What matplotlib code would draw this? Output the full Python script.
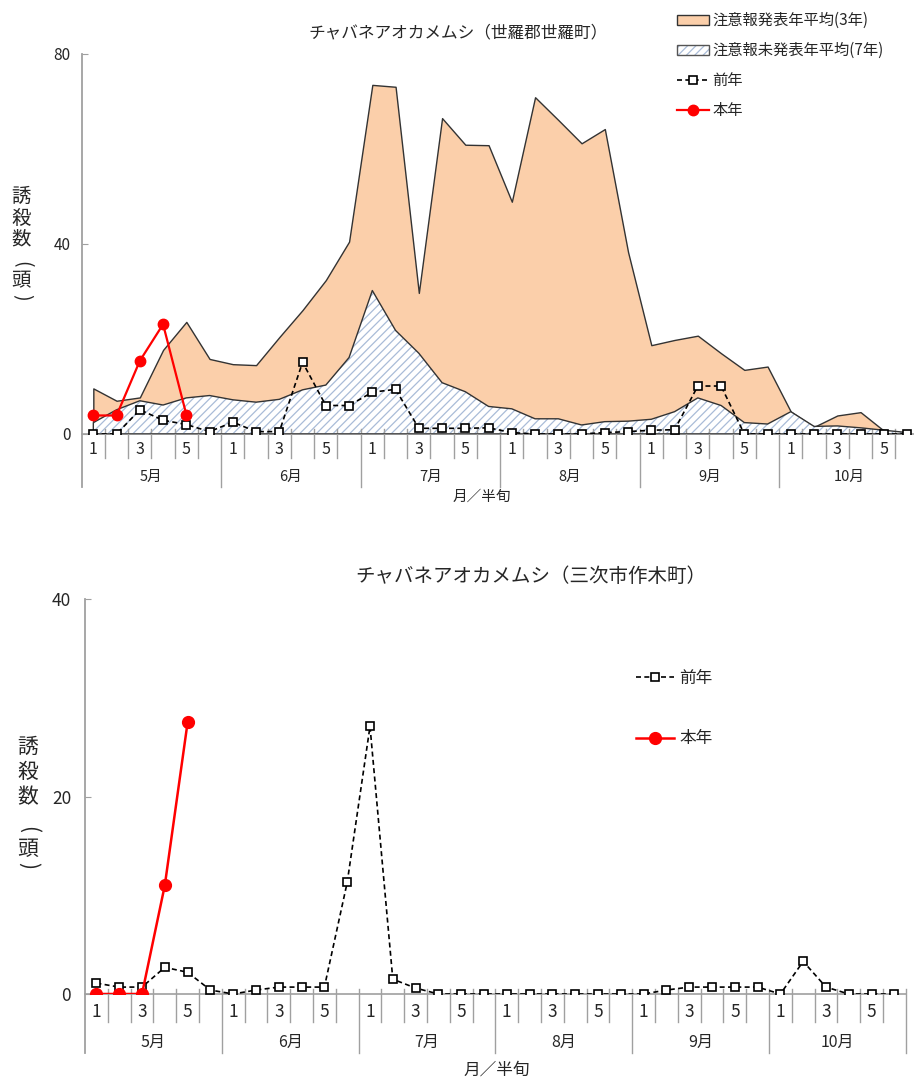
import matplotlib
matplotlib.use("Agg")
import matplotlib.pyplot as plt
import numpy as np
from matplotlib.patches import Patch
from matplotlib.lines import Line2D

plt.rcParams['font.family'] = ['Noto Sans CJK JP', 'DejaVu Sans']
plt.rcParams['hatch.linewidth'] = 0.9

# 月・半旬
months = ['5月', '6月', '7月', '8月', '9月', '10月']
pentad_labels = ['1', '', '3', '', '5', '']

# 世羅郡世羅町
sera_warn_avg = [9.6, 7.0, 7.7, 17.7, 23.6, 15.8, 14.7, 14.5, 20.4, 26.1, 32.4, 40.5,
                 73.5, 73.1, 29.7, 66.5, 60.9, 60.8, 48.9, 70.9, 66.1, 61.2, 64.2, 38.3,
                 18.7, 19.8, 20.7, 17.0, 13.5, 14.2, 4.7, 1.5, 3.9, 4.6, 0.7, 0.3]
sera_nowarn_avg = [2.4, 5.1, 7.0, 6.1, 7.6, 8.1, 7.2, 6.7, 7.3, 9.3, 10.3, 16.1,
                   30.2, 21.8, 17.0, 10.8, 8.9, 5.8, 5.3, 3.2, 3.2, 1.9, 2.6, 2.7,
                   3.1, 4.7, 7.6, 6.0, 2.4, 2.1, 4.7, 1.6, 1.7, 1.3, 0.8, 0.3]
sera_prev = [0, 0, 5.1, 2.9, 2.0, 0.5, 2.5, 0.5, 0.5, 15.1, 6.0, 6.0,
             8.8, 9.4, 1.2, 1.2, 1.2, 1.3, 0.3, 0, 0, 0, 0.3, 0.5,
             0.8, 0.9, 10.1, 10.1, 0, 0, 0, 0, 0, 0, 0, 0]
sera_this = [3.9, 3.9, 15.4, 23.1, 4.1]

# 三次市作木町
saki_prev = [1.1, 0.7, 0.7, 2.7, 2.2, 0.4, 0, 0.4, 0.7, 0.7, 0.7, 11.3,
             27.1, 1.5, 0.6, 0, 0, 0, 0, 0, 0, 0, 0, 0,
             0, 0.4, 0.7, 0.7, 0.7, 0.7, 0, 3.3, 0.7, 0, 0, 0]
saki_this = [0, 0, 0, 11.0, 27.5]

PEACH = '#FBCFAA'
HATCH = '#A9BCD8'
GRAY = '#A0A0A0'
TXT = '#262626'
OUTLINE = '#333333'

W, H = 914, 1079
fig = plt.figure(figsize=(W / 100, H / 100), dpi=100)


def px_axes(l, r, t, b):
    return fig.add_axes([l / W, 1 - b / H, (r - l) / W, (b - t) / H])


def style_axes(ax, ymax, step, sep_top, minor_bot, major_bot, lab_y, mon_y,
               fs_tick, fs_lab, fs_mon, pad):
    n = len(months) * 6
    ax.set_xlim(-0.5, n - 0.5)
    ax.set_ylim(0, ymax)
    for s in ['top', 'right', 'left']:
        ax.spines[s].set_visible(False)
    ax.spines['bottom'].set_color(GRAY)
    ax.spines['bottom'].set_linewidth(1.2)
    ax.set_xticks([])
    ax.set_yticks(np.arange(0, ymax + 1, step))
    ax.tick_params(axis='y', direction='in', length=4, color=GRAY,
                   labelsize=fs_tick, labelcolor=TXT, pad=pad)
    tr = ax.get_xaxis_transform()
    ax.plot([-0.5, -0.5], [major_bot, 1], transform=tr, color=GRAY, lw=1.3, clip_on=False)
    for k in range(1, n + 1):
        x = k - 0.5
        bot = major_bot if k % 6 == 0 else minor_bot
        ax.plot([x, x], [sep_top, bot], transform=tr, color=GRAY, lw=1, clip_on=False)
    for i in range(n):
        ax.text(i, lab_y, pentad_labels[i % 6], transform=tr, ha='center', va='center',
                fontsize=fs_lab, color=TXT)
    for m, name in enumerate(months):
        ax.text(m * 6 + 2.5, mon_y, name, transform=tr, ha='center', va='center',
                fontsize=fs_mon, color=TXT)


def ylabel_chars(x, ys, fs):
    # 縦書き: 括弧は90度回転
    chars = ['誘', '殺', '数', '(', '頭', ')']
    for c, y in zip(chars, ys):
        rot = 270 if c in '()' else 0
        fig.text(x / W, 1 - y / H, c, ha='center', va='center', fontsize=fs, color=TXT,
                 rotation=rot)


prev_style = dict(color='black', ls=(0, (3, 2)), lw=1.2, marker='s',
                  mfc='white', mec='black', mew=1.2)
this_style = dict(color='#FF0000', ls='-', marker='o', mfc='#FF0000', mec='#FF0000')

# ---- 上段: 世羅郡世羅町
ax1 = px_axes(81.7, 918.7, 54, 434)
x = np.arange(len(sera_warn_avg))
ax1.fill_between(x, 0, sera_warn_avg, facecolor=PEACH, edgecolor=OUTLINE, lw=1, zorder=1)
ax1.fill_between(x, 0, sera_nowarn_avg, facecolor='white', edgecolor=HATCH, hatch='////',
                 lw=0, zorder=2)
ax1.fill_between(x, 0, sera_nowarn_avg, facecolor='none', edgecolor=OUTLINE, lw=1, zorder=3)
ax1.plot(x, sera_prev, ms=6, zorder=4, **prev_style)
ax1.plot(np.arange(len(sera_this)), sera_this, lw=1.6, ms=7.5, zorder=5, **this_style)
style_axes(ax1, 80, 40, 0.013, -0.063, -0.1395, -0.042, -0.113, 11, 11.5, 10.5, 8)

fig.text(458 / W, 1 - 33 / H, 'チャバネアオカメムシ（世羅郡世羅町）', ha='center', va='center',
         fontsize=12, color=TXT)
fig.text(482 / W, 1 - 497 / H, '月／半旬', ha='center', va='center', fontsize=10.5, color=TXT)
ylabel_chars(21.5, [196, 218, 239, 264, 281, 297], 14)

h1 = Patch(facecolor=PEACH, edgecolor=OUTLINE, lw=1)
h2 = (Patch(facecolor='white', edgecolor=HATCH, hatch='////', lw=0),
      Patch(facecolor='none', edgecolor='#555555', lw=1))
h3 = Line2D([], [], ms=6, **prev_style)
h4 = Line2D([], [], lw=1.6, ms=7.5, **this_style)
fig.legend([h1, h2, h3, h4], ['注意報発表年平均(3年)', '注意報未発表年平均(7年)', '前年', '本年'],
           loc='upper left', bbox_to_anchor=(677 / W, 1 - 12 / H), frameon=False, fontsize=11,
           handlelength=2.1, handleheight=0.65, handletextpad=0.2, labelspacing=0.85,
           borderaxespad=0, borderpad=0, labelcolor=TXT)

# ---- 下段: 三次市作木町
ax2 = px_axes(85, 905.8, 599, 994)
x2 = np.arange(len(saki_prev))
ax2.plot(x2, saki_prev, ms=5.5, zorder=4, **prev_style)
ax2.plot(np.arange(len(saki_this)), saki_this, lw=1.8, ms=8.5, zorder=5, **this_style)
style_axes(ax2, 40, 20, 0.0127, -0.0709, -0.149, -0.0456, -0.1215, 12.5, 12.5, 11.5, 10)

fig.text(531 / W, 1 - 577 / H, 'チャバネアオカメムシ（三次市作木町）', ha='center', va='center',
         fontsize=14, color=TXT)
fig.text(497 / W, 1 - 1070 / H, '月／半旬', ha='center', va='center', fontsize=12, color=TXT)
ylabel_chars(28, [747, 772, 797, 830, 849, 866], 15)

h3b = Line2D([], [], ms=5.5, **prev_style)
h4b = Line2D([], [], lw=1.8, ms=8.5, **this_style)
fig.legend([h3b, h4b], ['前年', '本年'], loc='upper left', bbox_to_anchor=(636 / W, 1 - 670 / H),
           frameon=False, fontsize=12, handlelength=2.3, handletextpad=0.3, labelspacing=2.6,
           borderaxespad=0, borderpad=0, labelcolor=TXT)

fig.savefig('out.png', dpi=100)
